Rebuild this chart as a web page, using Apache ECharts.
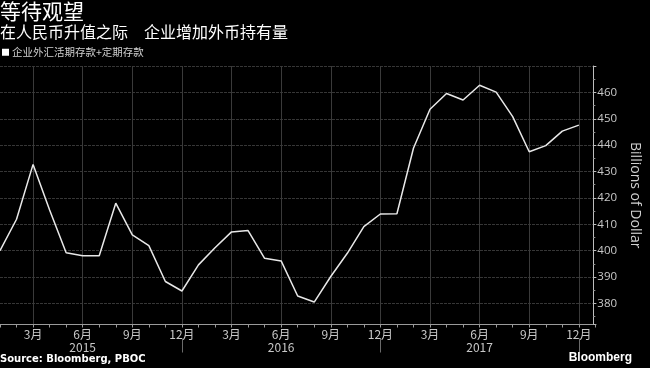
<!DOCTYPE html>
<html>
<head>
<meta charset="utf-8">
<script src="https://cdn.jsdelivr.net/npm/echarts@6/dist/echarts.min.js"></script>
<style>
html,body{margin:0;padding:0;background:#000;}
#c{width:650px;height:368px;}
</style>
</head>
<body>
<div id="c"></div>
<script>
// ---- data ----
const years = ['2015', '2016', '2017'];
const values2015 = [400.0, 411.9, 432.7, 415.4, 399.2, 398.1, 398.1, 418.0, 406.0, 401.9, 388.3, 384.7];
const values2016 = [394.6, 401.1, 407.1, 407.6, 397.1, 396.1, 382.8, 380.5, 390.2, 399.0, 409.1, 413.9];
const values2017 = [414.0, 438.8, 453.6, 459.6, 457.1, 462.7, 460.1, 450.8, 437.5, 439.8, 445.3, 447.6];
const seriesName = '企业外汇活期存款+定期存款';
const titleText = '等待观望';
const subtitleText = '在人民币升值之际　企业增加外币持有量';
const yAxisName = 'Billions of Dollar';
const sourceText = 'Source: Bloomberg, PBOC';

// categories: each month, plus one trailing month so the axis runs past Dec 2017
const categories = [];
years.forEach(y => { for (let m = 1; m <= 12; m++) categories.push(y + '-' + m); });
categories.push('2018-1');
const values = values2015.concat(values2016, values2017);

const monthOf = c => parseInt(c.split('-')[1], 10);
const yearOf = c => c.split('-')[0];
const isQuarter = (i) => monthOf(categories[i]) % 3 === 0;

const chart = echarts.init(document.getElementById('c'), null, {renderer: 'canvas'});
const cjk = '"Noto Sans CJK SC", "Noto Sans", sans-serif';

chart.setOption({
  backgroundColor: '#000',
  animation: false,
  title: [
    {text: titleText, left: 0, top: 1, padding: 0,
     textStyle: {color: '#ffffff', fontSize: 21, fontWeight: 'normal', fontFamily: cjk}},
    {text: subtitleText, left: 0, top: 24, padding: 0,
     textStyle: {color: '#ffffff', fontSize: 16, fontWeight: 'normal', fontFamily: cjk}},
    {text: sourceText, left: 0, top: 354, padding: 0,
     textStyle: {color: '#ffffff', fontSize: 10, fontWeight: 'bold', fontFamily: '"DejaVu Sans", sans-serif'}},
    {text: 'Bloomberg', right: 18, top: 352, padding: 0,
     textStyle: {color: '#ffffff', fontSize: 12, fontWeight: 'bold', fontFamily: '"Liberation Sans", Arial, sans-serif'}}
  ],
  legend: {
    left: 2, top: 47, padding: 0, itemWidth: 7, itemHeight: 7, itemGap: 4,
    icon: 'rect',
    textStyle: {color: '#cfcfcf', fontSize: 10.5, fontFamily: cjk, padding: [0, 0, 0, -2]},
    data: [seriesName]
  },
  grid: {left: -1.7, right: 39.7, top: 66, bottom: 43.5, containLabel: false},
  xAxis: [
    {
      type: 'category', data: categories, boundaryGap: false,
      axisLine: {show: true, lineStyle: {color: '#9a9a9a', width: 1}},
      axisTick: {show: true, interval: 0, length: 3, lineStyle: {color: '#9a9a9a'}},
      axisLabel: {
        interval: (i) => isQuarter(i),
        color: '#c8c8c8', fontSize: 12, lineHeight: 13, margin: 3, fontFamily: cjk,
        formatter: (v) => {
          const m = monthOf(v);
          return m === 6 ? m + '月\n' + yearOf(v) : m + '月';
        }
      },
      splitLine: {show: true, interval: (i) => isQuarter(i), lineStyle: {color: '#3a3a3a', width: 1}}
    },
    {
      type: 'category', data: categories, boundaryGap: false, position: 'bottom', offset: 14,
      axisLine: {show: false},
      axisTick: {show: true, interval: (i) => monthOf(categories[i]) === 12, length: 14, lineStyle: {color: '#6a6a6a'}},
      axisLabel: {show: false},
      splitLine: {show: false}
    }
  ],
  yAxis: {
    type: 'value', position: 'right', min: 372, max: 470, splitNumber: 10, offset: -2,
    axisLine: {show: true, lineStyle: {color: '#bdbdbd'}},
    axisTick: {show: true, length: 3, lineStyle: {color: '#bdbdbd'}},
    minorTick: {show: true, splitNumber: 2, length: 2, lineStyle: {color: '#8a8a8a'}},
    axisLabel: {color: '#c8c8c8', fontSize: 11.5, margin: 4, showMinLabel: false, showMaxLabel: false,
                fontFamily: '"Open Sans", sans-serif'},
    splitLine: {show: true, lineStyle: {color: '#363636', width: 1, type: [3, 1]}},
    name: yAxisName, nameLocation: 'middle', nameRotate: -90, nameGap: 33,
    nameTextStyle: {color: '#d0d0d0', fontSize: 14, fontFamily: '"Open Sans", sans-serif'}
  },
  series: [{
    name: seriesName, type: 'line', data: values, xAxisIndex: 0,
    symbol: 'none', smooth: false,
    lineStyle: {color: '#e8e8e8', width: 1.5},
    itemStyle: {color: '#ffffff'}
  }]
});
</script>
</body>
</html>
